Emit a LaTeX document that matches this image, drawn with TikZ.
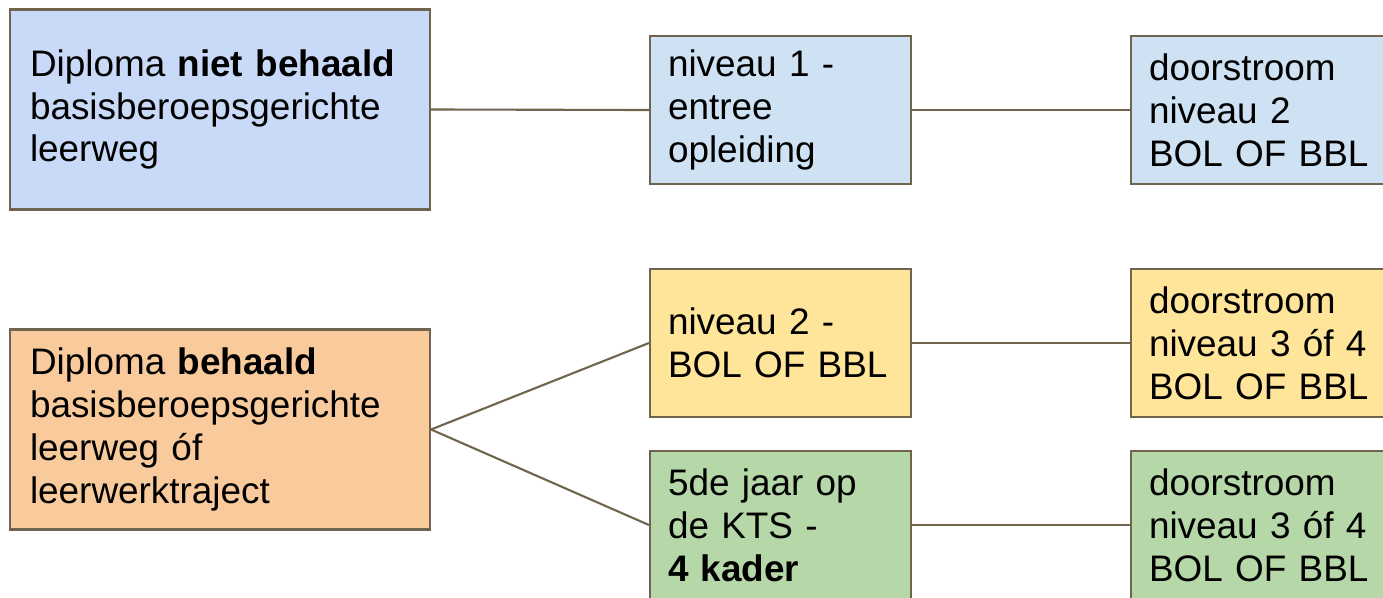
\documentclass[tikz,border=0pt]{standalone}
\usepackage{fontspec}
\setmainfont{Liberation Sans}
\definecolor{lijn}{RGB}{112,100,78}
\definecolor{blauwA}{HTML}{C9DAF8}
\definecolor{blauwB}{HTML}{CFE2F3}
\definecolor{oranje}{HTML}{F9CB9C}
\definecolor{geel}{HTML}{FFE599}
\definecolor{groen}{HTML}{B6D7A8}
\begin{document}
\begin{tikzpicture}[
    font=\fontsize{10.5}{12.2}\selectfont,
    bigbox/.style={draw=lijn, line width=0.6pt, minimum width=4.2cm, minimum height=2cm,
                   text width=3.8cm, inner xsep=0.2cm, align=left},
    smallbox/.style={draw=lijn, line width=0.6pt, minimum width=2.61cm, minimum height=1.48cm,
                     text width=2.25cm, inner xsep=0.18cm, align=left},
    link/.style={draw=lijn, line width=0.6pt}
  ]
       \useasboundingbox (0,0) rectangle (13.83,5.97);

       % bovenste rij
       \node[bigbox, fill=blauwA] (nietbehaald) at (2.20,4.875) {Diploma \textbf{niet behaald}\\ basisberoepsgerichte\\ leerweg};
       \node[smallbox, fill=blauwB] (entree) at (7.805,4.87) {niveau 1 -\\ entree\\ opleiding};
       \node[smallbox, fill=blauwB] (doorA) at (12.615,4.87) {doorstroom\\ niveau 2\\ BOL OF BBL};

       % onderste rijen
       \node[bigbox, fill=oranje] (behaald) at (2.20,1.675) {Diploma \textbf{behaald}\\ basisberoepsgerichte\\ leerweg óf\\ leerwerktraject};
       \node[smallbox, fill=geel] (niveau2) at (7.805,2.54) {niveau 2 -\\ BOL OF BBL};
       \node[smallbox, fill=geel] (doorB) at (12.615,2.54) {doorstroom\\ niveau 3 óf 4\\ BOL OF BBL};
       \node[smallbox, fill=groen] (kts) at (7.805,0.72) {5de jaar op\\ de KTS -\\ \textbf{4 kader}};
       \node[smallbox, fill=groen] (doorC) at (12.615,0.72) {doorstroom\\ niveau 3 óf 4\\ BOL OF BBL};

       \draw[link] (nietbehaald.east) -- (entree.west);
       \draw[link] (entree.east) -- (doorA.west);
       \draw[link] (behaald.east) -- (niveau2.west);
       \draw[link] (behaald.east) -- (kts.west);
       \draw[link] (niveau2.east) -- (doorB.west);
       \draw[link] (kts.east) -- (doorC.west);
\end{tikzpicture}
\end{document}
